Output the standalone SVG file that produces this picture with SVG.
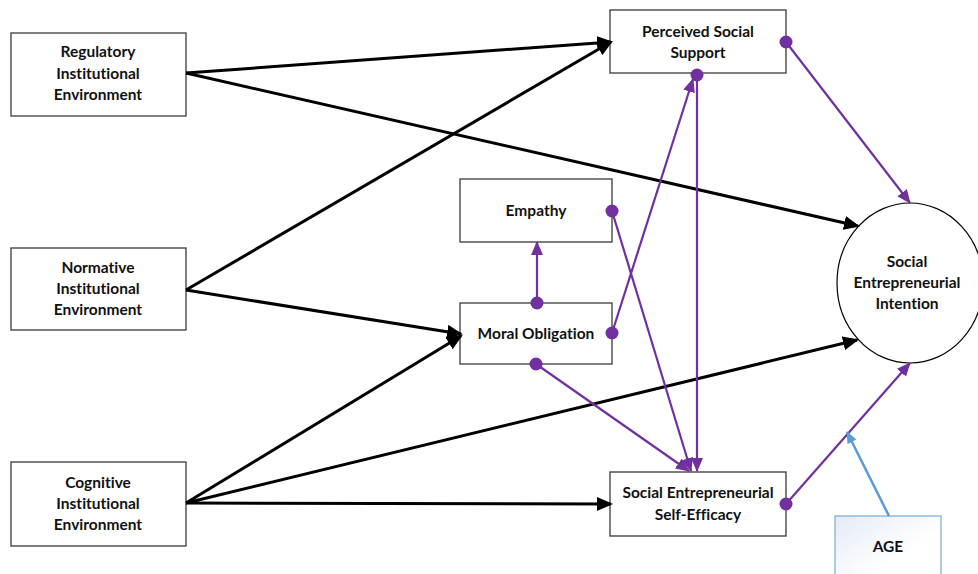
<svg xmlns="http://www.w3.org/2000/svg" width="978" height="574" viewBox="0 0 978 574">
  <style>
    .box { fill: #ffffff; stroke: #3a3a3a; stroke-width: 1.3; }
    .lbl { font-family: Lato, "Liberation Sans", sans-serif; font-weight: bold; font-size: 15.5px; fill: #111111; text-anchor: middle; font-variant-ligatures: none; font-feature-settings: "liga" 0, "clig" 0; }
    .blk { stroke: #000000; stroke-width: 3; fill: none; }
    .pur { stroke: #7030A0; stroke-width: 2.2; fill: none; }
    .blu { stroke: #5B9BD5; stroke-width: 2.5; fill: none; }
    .dot { fill: #7030A0; }
  </style>
  <defs>
    <marker id="arrBlack" markerUnits="userSpaceOnUse" markerWidth="16" markerHeight="14" viewBox="0 0 16 14" refX="14" refY="7" orient="auto">
      <path d="M0,0 L16,7 L0,14 z" fill="#000000"/>
    </marker>
    <marker id="arrPurple" markerUnits="userSpaceOnUse" markerWidth="14" markerHeight="12" viewBox="0 0 14 12" refX="13" refY="6" orient="auto">
      <path d="M0,0 L14,6 L0,12 z" fill="#7030A0"/>
    </marker>
    <marker id="arrBlue" markerUnits="userSpaceOnUse" markerWidth="12" markerHeight="10" viewBox="0 0 12 10" refX="11" refY="5" orient="auto">
      <path d="M0,0 L12,5 L0,10 z" fill="#5B9BD5"/>
    </marker>
    <linearGradient id="ageFill" x1="0" y1="0" x2="1" y2="1">
      <stop offset="0" stop-color="#e4ebf6"/>
      <stop offset="0.6" stop-color="#ffffff"/>
    </linearGradient>
  </defs>

  <g id="regulatory">
    <rect class="box" x="11" y="33" width="175" height="83"/>
    <text class="lbl" x="98" y="57">Regulatory</text>
    <text class="lbl" x="98" y="79">Institutional</text>
    <text class="lbl" x="98" y="100">Environment</text>
  </g>

  <g id="normative">
    <rect class="box" x="11" y="248" width="175" height="82"/>
    <text class="lbl" x="98" y="273">Normative</text>
    <text class="lbl" x="98" y="294">Institutional</text>
    <text class="lbl" x="98" y="315">Environment</text>
  </g>

  <g id="cognitive">
    <rect class="box" x="11" y="462" width="175" height="84"/>
    <text class="lbl" x="98" y="488">Cognitive</text>
    <text class="lbl" x="98" y="509">Institutional</text>
    <text class="lbl" x="98" y="530">Environment</text>
  </g>

  <g id="perceived-support">
    <rect class="box" x="610" y="10" width="176" height="63"/>
    <text class="lbl" x="698" y="37">Perceived Social</text>
    <text class="lbl" x="698" y="58">Support</text>
  </g>

  <g id="empathy">
    <rect class="box" x="460" y="179" width="152" height="63"/>
    <text class="lbl" x="536" y="216">Empathy</text>
  </g>

  <g id="moral-obligation">
    <rect class="box" x="460" y="303" width="152" height="61"/>
    <text class="lbl" x="536" y="339">Moral Obligation</text>
  </g>

  <g id="self-efficacy">
    <rect class="box" x="610" y="472" width="176" height="64"/>
    <text class="lbl" x="698" y="498">Social Entrepreneurial</text>
    <text class="lbl" x="698" y="520">Self-Efficacy</text>
  </g>

  <g id="intention">
    <ellipse cx="910" cy="283" rx="73" ry="80" fill="#ffffff" stroke="#000000" stroke-width="1.2"/>
    <text class="lbl" x="907" y="267">Social</text>
    <text class="lbl" x="907" y="288">Entrepreneurial</text>
    <text class="lbl" x="907" y="309">Intention</text>
  </g>

  <g id="age">
    <rect x="835" y="516" width="106" height="70" fill="url(#ageFill)" stroke="#7fb0dd" stroke-width="1.3"/>
    <text class="lbl" x="888" y="552">AGE</text>
  </g>

  <!-- connectors, drawn over the node borders -->
  <g id="connectors">
    <!-- institutional paths -->
    <line class="blk" x1="186" y1="73" x2="611" y2="42" marker-end="url(#arrBlack)"/>
    <line class="blk" x1="186" y1="73" x2="858" y2="226" marker-end="url(#arrBlack)"/>
    <line class="blk" x1="186" y1="290" x2="611" y2="42" marker-end="url(#arrBlack)"/>
    <line class="blk" x1="186" y1="290" x2="461" y2="334" marker-end="url(#arrBlack)"/>
    <line class="blk" x1="186" y1="503" x2="461" y2="336" marker-end="url(#arrBlack)"/>
    <line class="blk" x1="186" y1="503" x2="857" y2="340" marker-end="url(#arrBlack)"/>
    <line class="blk" x1="186" y1="503" x2="611" y2="504" marker-end="url(#arrBlack)"/>

    <!-- mediating paths -->
    <line class="pur" x1="786" y1="42" x2="910" y2="203" marker-end="url(#arrPurple)"/>
    <line class="pur" x1="697" y1="75" x2="697" y2="471" marker-end="url(#arrPurple)"/>
    <line class="pur" x1="612" y1="333" x2="693" y2="79" marker-end="url(#arrPurple)"/>
    <line class="pur" x1="612" y1="211" x2="691" y2="471" marker-end="url(#arrPurple)"/>
    <line class="pur" x1="536" y1="364" x2="689" y2="471" marker-end="url(#arrPurple)"/>
    <line class="pur" x1="537" y1="303" x2="537" y2="242" marker-end="url(#arrPurple)"/>
    <line class="pur" x1="786" y1="504" x2="910" y2="363" marker-end="url(#arrPurple)"/>

    <!-- moderator -->
    <line class="blu" x1="889" y1="516" x2="847" y2="432" marker-end="url(#arrBlue)"/>

    <!-- path origins -->
    <circle class="dot" cx="786" cy="42" r="6.5"/>
    <circle class="dot" cx="697" cy="75" r="6.5"/>
    <circle class="dot" cx="612" cy="211" r="6.5"/>
    <circle class="dot" cx="612" cy="333" r="6.5"/>
    <circle class="dot" cx="537" cy="303" r="6.5"/>
    <circle class="dot" cx="536" cy="364" r="6.5"/>
    <circle class="dot" cx="786" cy="504" r="6.5"/>
  </g>
</svg>
